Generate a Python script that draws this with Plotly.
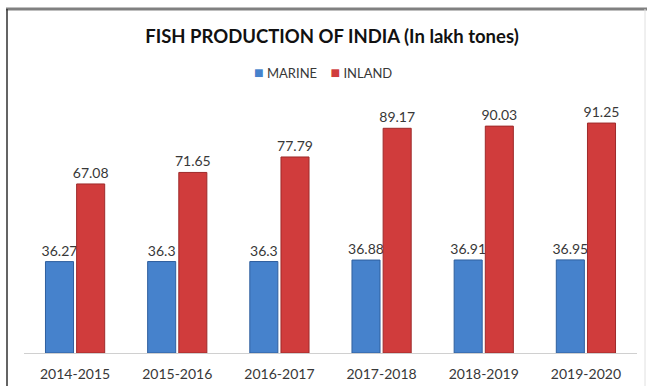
import plotly.graph_objects as go

years = ["2014-2015", "2015-2016", "2016-2017", "2017-2018", "2018-2019", "2019-2020"]
marine = [36.27, 36.3, 36.3, 36.88, 36.91, 36.95]
inland = [67.08, 71.65, 77.79, 89.17, 90.03, 91.25]
series_names = ["MARINE", "INLAND"]
series_colors = ["#4682CC", "#D03C3C"]
edge_colors = ["#2F5F9E", "#9E2A2A"]

W, H = 647, 386
L, R, T, B = 24, 10, 101, 33
pw, ph = W - L - R, H - T - B

def px(x):
    return (x - L) / pw

def py(y):
    return (H - B - y) / ph

font = "Lato, Carlito, 'Open Sans', sans-serif"

fig = go.Figure()
for name, vals, col, edge in zip(series_names, [marine, inland], series_colors, edge_colors):
    fig.add_trace(go.Bar(
        name=name, x=years, y=vals,
        marker=dict(color=col, line=dict(color=edge, width=1)),
        text=[str(v) for v in vals], textposition="outside",
        constraintext="none",
        textfont=dict(size=14, color="#383838", family=font),
        cliponaxis=False,
    ))

legend_text = (f'<span style="color:{series_colors[0]};font-size:16px">■</span> {series_names[0]}'
               f'&nbsp;&nbsp;&nbsp;&nbsp;<span style="color:{series_colors[1]};font-size:16px">■</span> {series_names[1]}')
fig.add_annotation(text=legend_text, xref="paper", yref="paper",
                   x=px(323), y=py(71), xanchor="center", yanchor="middle",
                   showarrow=False, font=dict(size=13, color="#383838", family=font))

fig.update_layout(
    width=W, height=H,
    margin=dict(l=L, r=R, t=T, b=B, autoexpand=False),
    paper_bgcolor="white", plot_bgcolor="white",
    font=dict(family=font, color="#383838"),
    barmode="group", bargap=0.39, bargroupgap=0.1,
    title=dict(text="<b>FISH PRODUCTION OF INDIA (In lakh tones)</b>",
               x=px(332), xanchor="center", xref="paper", y=1 - 37 / H, yanchor="middle",
               font=dict(size=18.5, color="#111111", family=font)),
    showlegend=False,
    xaxis=dict(showline=True, linecolor="#D0D0D0", linewidth=1, automargin=False,
               ticks="", showgrid=False, ticklabelstandoff=8,
               tickfont=dict(size=14, color="#383838", family=font)),
    yaxis=dict(range=[0, 100], visible=False, showgrid=False, automargin=False),
)

fig.add_shape(type="line", xref="paper", yref="paper",
              x0=px(6), x1=px(647), y0=py(9), y1=py(9),
              line=dict(color="#808080", width=3))
fig.add_shape(type="line", xref="paper", yref="paper",
              x0=px(7), x1=px(7), y0=py(9), y1=py(390),
              line=dict(color="#303030", width=1.5))
fig.add_shape(type="line", xref="paper", yref="paper",
              x0=px(645), x1=px(645), y0=py(9), y1=py(390),
              line=dict(color="#E0E0E0", width=1))

fig.write_html("out.html")
